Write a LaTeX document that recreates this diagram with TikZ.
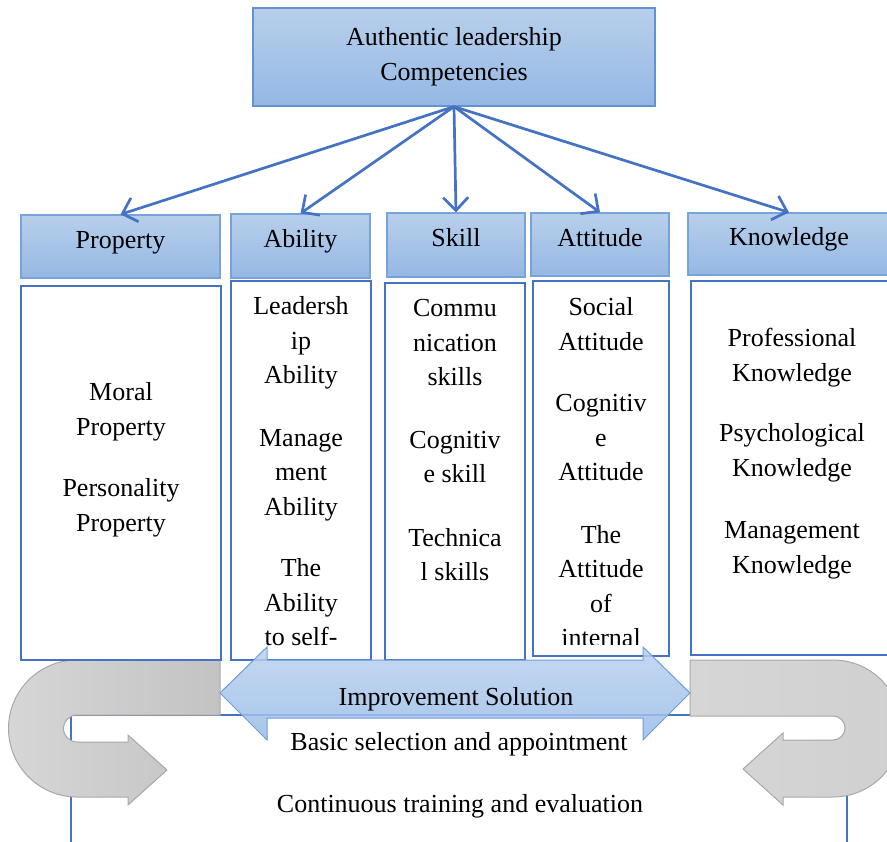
\documentclass[tikz,border=0pt]{standalone}
\usepackage{fontspec}
\setmainfont{Liberation Serif}
\usetikzlibrary{arrows.meta}
\definecolor{boxblue}{RGB}{68,114,196}
\definecolor{hdrTop}{RGB}{184,207,235}
\definecolor{hdrBot}{RGB}{148,184,228}
\definecolor{hdrLine}{RGB}{120,163,218}
\definecolor{topLine}{RGB}{98,146,210}
\definecolor{guA}{RGB}{214,214,214}
\definecolor{guB}{RGB}{195,195,195}
\definecolor{guC}{RGB}{208,208,208}
\definecolor{guLine}{RGB}{168,168,168}
\definecolor{baTop}{RGB}{186,209,238}
\definecolor{baBot}{RGB}{152,187,232}
\definecolor{baLine}{RGB}{110,158,218}
\newcommand\colblk[1]{\begin{tabular}[t]{@{}c@{}}#1\end{tabular}}
\begin{document}
\begin{tikzpicture}[x=1pt,y=-1pt,
  every node/.style={font=\fontsize{26}{34.5}\selectfont},
  hdr/.style={draw=hdrLine, line width=1.2pt, top color=hdrTop, bottom color=hdrBot, inner sep=0pt, text height=12pt, text depth=8pt},
  topbox/.style={draw=topLine, line width=1.2pt, top color=hdrTop, bottom color=hdrBot, inner sep=0pt, align=center},
  cbox/.style={draw=boxblue, line width=2.4pt, inner sep=0pt},
  conn/.style={draw=boxblue, line width=2.7pt, -{Straight Barb[length=13pt,width=25pt]}},
  txt/.style={inner sep=0pt, anchor=base},
  uarrow/.style={draw=guLine, line width=1pt},
  barrow/.style={draw=baLine, line width=1pt, top color=baTop, bottom color=baBot, fill opacity=0.85},
]
\useasboundingbox (0,0) rectangle (887,842);
\clip (0,0) rectangle (887,842);

% bottom frame
\draw[boxblue, line width=2.4pt] (71,850) -- (71,715) -- (847,715) -- (847,850);

% gray U-arrows
\path[uarrow, left color=guA, right color=guB]
  (220,660) -- (77,660) arc[start angle=90, end angle=270, radius=68.5pt]
  -- (128,797) -- (128,805) -- (167,770) -- (128,735) -- (128,742)
  -- (77,742) arc[start angle=270, end angle=90, radius=13.5pt]
  -- (220,715) -- cycle;
\path[uarrow, left color=guA, right color=guC]
  (690,660) -- (833,660) arc[start angle=90, end angle=-90, radius=68.5pt]
  -- (783,797) -- (783,805) -- (743,769) -- (783,733) -- (783,740)
  -- (833,740) arc[start angle=-90, end angle=90, radius=12pt]
  -- (690,716) -- cycle;

% top box
\node[topbox, minimum width=402pt, minimum height=98pt] (top) at (454,57)
  {Authentic leadership\\Competencies};

% headers
\node[hdr, minimum width=199pt, minimum height=63pt] (hProp) at (120.5,246.5) {Property};
\node[hdr, minimum width=139pt, minimum height=64pt] (hAbil) at (300.5,246) {Ability};
\node[hdr, minimum width=138pt, minimum height=64pt] (hSkill) at (456,245) {Skill};
\node[hdr, minimum width=138pt, minimum height=63pt] (hAtt) at (600,244.5) {Attitude};
\node[hdr, minimum width=202pt, minimum height=62pt] (hKnow) at (789,244) {Knowledge};

% connectors
\draw[conn] (top.south) -- (hProp.north);
\draw[conn] (top.south) -- (hAbil.north);
\draw[conn] (top.south) -- (hSkill.north);
\draw[conn] (top.south) -- (hAtt.north);
\draw[conn] (top.south) -- (hKnow.north);

% content boxes
\node[cbox, minimum width=200pt, minimum height=374pt] (cProp) at (121,473) {};
\node[cbox, minimum width=140pt, minimum height=379pt] (cAbil) at (301,470.5) {};
\node[cbox, minimum width=140pt, minimum height=377pt] (cSkill) at (455,471.5) {};
\node[cbox, minimum width=136pt, minimum height=375pt] (cAtt) at (601,468.5) {};
\node[cbox, minimum width=204pt, minimum height=374pt] (cKnow) at (793,468) {};

% content texts
\node[txt] (tProp) at (121,401) {\colblk{Moral\\Property\\[27pt]Personality\\Property}};
\begin{scope}
\clip (231,281) rectangle (371,651);
\node[txt] (tAbil) at (301,315) {\colblk{Leadersh\\ip\\Ability\\[28pt]Manage\\ment\\Ability\\[27pt]The\\Ability\\to self-}};
\end{scope}
\node[txt] (tSkill) at (455,317) {\colblk{Commu\\nication\\skills\\[28pt]Cognitiv\\e skill\\[29pt]Technica\\l skills}};
\begin{scope}
\clip (533,281) rectangle (669,644);
\node[txt] (tAtt) at (601,316) {\colblk{Social\\Attitude\\[27pt]Cognitiv\\e\\Attitude\\[28pt]The\\Attitude\\of\\internal}};
\end{scope}
\node[txt] (tKnow) at (792,347) {\colblk{Professional\\Knowledge\\[26pt]Psychological\\Knowledge\\[28pt]Management\\Knowledge}};

% blue double arrow
\path[barrow] (220,693) -- (267,647) -- (267,660) -- (643,660) -- (643,647)
  -- (690,693) -- (643,740) -- (643,718) -- (267,718) -- (267,740) -- cycle;

% bottom texts
\node[txt] (imp) at (456,705) {Improvement Solution};
\node[txt] (bas) at (459,750) {Basic selection and appointment};
\node[txt] (con) at (460,812) {Continuous training and evaluation};
\end{tikzpicture}
\end{document}
